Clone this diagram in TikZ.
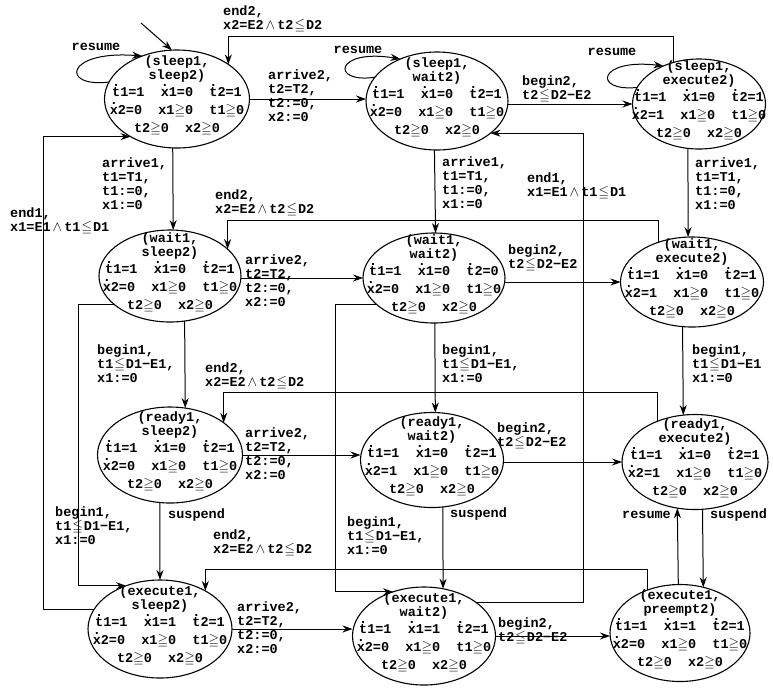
\documentclass[tikz,border=0pt]{standalone}
\usepackage{amssymb}
\usepackage{fontspec}
\setmainfont{Liberation Mono}
\usetikzlibrary{shapes.geometric,arrows.meta}

% relation symbols and derivative dot
\newcommand{\myge}{\ensuremath{\geqq}}
\newcommand{\myle}{\hspace{1pt}\ensuremath{\leqq}\hspace{1pt}}
\newcommand{\myand}{\hspace{2pt}\ensuremath{\wedge}\hspace{2pt}}
\newcommand{\dotv}[1]{\leavevmode\rlap{\smash{\hbox to 0.6em{\hss\raisebox{0.75em}{.}\hss}}}#1}
% contents of one state: (task1, task2) and its flow/invariant conditions
\newcommand{\stext}[5]{(#1,\\#2)\\[3pt]%
\dotv{t}1=1~~\dotv{x}1=#3~~\dotv{t}2=#4\\[4pt]%
\dotv{x}2=#5~~x1\myge0~~t1\myge0\\[4pt]%
t2\myge0~~x2\myge0}

\begin{document}
\begin{tikzpicture}[x=1pt,y=-1pt,
  every node/.style={font=\fontsize{13.5}{14}\selectfont\bfseries},
  st/.style={draw, ellipse, line width=1.1pt, inner sep=0pt, outer sep=0pt},
  txt/.style={align=center, inner sep=0pt},
  lab/.style={anchor=north west, align=left, inner sep=0pt},
  plain/.style={inner sep=0pt},
  arr/.style={line width=1pt, -{Stealth[length=10pt,width=7pt]}},
]
\fill[white] (0,0) rectangle (773,689);
\useasboundingbox (0,0) rectangle (773,689);

% ---- states ----
\node[st, minimum width=145pt, minimum height=98pt] (s1) at (177,99) {};
\node[st, minimum width=142pt, minimum height=98pt] (s2) at (437,101) {};
\node[st, minimum width=133pt, minimum height=90pt] (s3) at (699,104) {};
\node[st, minimum width=142pt, minimum height=92pt] (s4) at (170,276) {};
\node[st, minimum width=142pt, minimum height=90pt] (s5) at (434,278) {};
\node[st, minimum width=143pt, minimum height=90pt] (s6) at (692,282) {};
\node[st, minimum width=145pt, minimum height=96pt] (s7) at (170,455) {};
\node[st, minimum width=143pt, minimum height=95pt] (s8) at (432,460) {};
\node[st, minimum width=146pt, minimum height=95pt] (s9) at (695,462) {};
\node[st, minimum width=144pt, minimum height=98pt] (s10) at (160,629) {};
\node[st, minimum width=143pt, minimum height=98pt] (s11) at (424,636) {};
\node[st, minimum width=140pt, minimum height=97pt] (s12) at (680,633) {};

\node[txt] (s1t) at (177,96) {\stext{sleep1}{sleep2}{0}{1}{0}};
\node[txt] (s2t) at (437,98) {\stext{sleep1}{wait2}{0}{1}{0}};
\node[txt] (s3t) at (699,101) {\stext{sleep1}{execute2}{0}{1}{1}};
\node[txt] (s4t) at (170,273) {\stext{wait1}{sleep2}{0}{1}{0}};
\node[txt] (s5t) at (434,275) {\stext{wait1}{wait2}{0}{0}{0}};
\node[txt] (s6t) at (692,279) {\stext{wait1}{execute2}{0}{1}{1}};
\node[txt] (s7t) at (170,452) {\stext{ready1}{sleep2}{0}{1}{0}};
\node[txt] (s8t) at (432,457) {\stext{ready1}{wait2}{0}{1}{1}};
\node[txt] (s9t) at (695,459) {\stext{ready1}{execute2}{0}{1}{1}};
\node[txt] (s10t) at (160,626) {\stext{execute1}{sleep2}{1}{1}{0}};
\node[txt] (s11t) at (424,633) {\stext{execute1}{wait2}{1}{1}{0}};
\node[txt] (s12t) at (680,630) {\stext{execute1}{preempt2}{1}{1}{0}};

% ---- initial arrow and resume loops ----
\coordinate (init) at (141,23);
\draw[arr] (init) -- (s1.96);
\draw[arr] (s1.166.3) .. controls (60,88) and (65,50) .. (s1.129.7);
\draw[arr] (s2.159) .. controls (330,84) and (335,48) .. (s2.131.6);
\draw[arr] (s3.165.3) .. controls (592,92) and (598,58) .. (s3.133.6);
\node[plain] (r1) at (96,47) {resume};
\node[plain] (r2) at (358,50) {resume};
\node[plain] (r3) at (612,52) {resume};

% ---- horizontal transitions ----
\draw[arr] (s1.east) -- (s1.east -| s2.west);
\draw[arr] (s3.west -| s2.east) -- (s3.west);
\draw[arr] (s5.west -| s4.east) -- (s5.west);
\draw[arr] (s6.west -| s5.east) -- (s6.west);
\draw[arr] (s7.east) -- (s7.east -| s8.west);
\draw[arr] (s9.west -| s8.east) -- (s9.west);
\draw[arr] (s10.east) -- (s10.east -| s11.west);
\draw[arr] (s11.east) -- (s11.east -| s12.west);

% ---- vertical transitions ----
\draw[arr] (s1.265.3) -- (s4.86.3);
\draw[arr] (s2.267.7) -- (s5.88.7);
\draw[arr] (s3.256.1) -- (s6.95.1);
\draw[arr] (s4.288.4) -- (s7.72.3);
\draw[arr] (s5.271.3) -- (s8.86.4);
\draw[arr] (s6.258.6) -- (s9.104.4);
\draw[arr] (s7.258.1) -- (s10.90);
\draw[arr] (s8.283.2) -- (s11.68.1);
\draw[arr] (s9.279.6) -- (s12.63.3);
\draw[arr] (s12.92.4) -- (s9.249.8);

% ---- end2 returns ----
\coordinate (yA) at (0,36);
\draw[arr] (s3.122.1) -- (s3.122.1 |- yA) -| (s1.34.3);
\coordinate (yB) at (0,220);
\draw[arr] (s6.130.6) -- (s6.130.6 |- yB) -| (s4.25.7);
\coordinate (yC) at (0,392);
\draw[arr] (s9.133.1) -- (s9.133.1 |- yC) -| (s7.31.7);
\coordinate (yD) at (0,569);
\draw[arr] (s12.127.6) -- (s12.127.6 |- yD) -| (s10.40.3);

% ---- begin1 jumps and end1 returns ----
\coordinate (xA) at (78,0);
\draw[arr] (s4.207.8) -- (s4.207.8 -| xA) |- (s10.128.7);
\coordinate (xB) at (335,0);
\draw[arr] (s5.205.4) -- (s5.205.4 -| xB) |- (s11.125.6);
\coordinate (xC) at (43,0);
\draw[arr] (s10.164) -- (s10.164 -| xC) |- (s1.219.7);
\coordinate (xD) at (583,0);
\draw[arr] (s11.33.4) -- (s11.33.4 -| xD) |- (s2.329.3);

% ---- labels ----
\node[lab] (la1) at (223,6) {end2,\\x2=E2\myand t2\myle D2};
\node[lab] (la2) at (268,70) {arrive2,\\t2=T2,\\t2:=0,\\x2:=0};
\node[lab] (la3) at (522,76) {begin2,\\t2\myle D2−E2};
\node[lab] (la4) at (102,158) {arrive1,\\t1=T1,\\t1:=0,\\x1:=0};
\node[lab] (la5) at (442,157) {arrive1,\\t1=T1,\\t1:=0,\\x1:=0};
\node[lab] (la6) at (695,158) {arrive1,\\t1=T1,\\t1:=0,\\x1:=0};
\node[lab] (la7) at (10,208) {end1,\\x1=E1\myand t1\myle D1};
\node[lab] (la8) at (527,173) {end1,\\x1=E1\myand t1\myle D1};
\node[lab] (la9) at (215,190) {end2,\\x2=E2\myand t2\myle D2};
\node[lab] (la10) at (245,255) {arrive2,\\t2=T2,\\t2:=0,\\x2:=0};
\node[lab] (la11) at (508,245) {begin2,\\t2\myle D2−E2};
\node[lab] (la12) at (97,345) {begin1,\\t1\myle D1−E1,\\x1:=0};
\node[lab] (la13) at (442,345) {begin1,\\t1\myle D1−E1,\\x1:=0};
\node[lab] (la14) at (692,345) {begin1,\\t1\myle D1−E1\\x1:=0};
\node[lab] (la15) at (205,363) {end2,\\x2=E2\myand t2\myle D2};
\node[lab] (la16) at (245,428) {arrive2,\\t2=T2,\\t2:=0,\\x2:=0};
\node[lab] (la17) at (497,423) {begin2,\\t2\myle D2−E2};
\node[lab] (la18) at (55,507) {begin1,\\t1\myle D1−E1,\\x1:=0};
\node[lab] (la19) at (347,517) {begin1,\\t1\myle D1−E1,\\x1:=0};
\node[lab] (la20) at (213,530) {end2,\\x2=E2\myand t2\myle D2};
\node[lab] (la21) at (237,602) {arrive2,\\t2=T2,\\t2:=0,\\x2:=0};
\node[lab] (la22) at (498,618) {begin2,\\t2\myle D2−E2};
\node[plain, anchor=west] (su1) at (168,515) {suspend};
\node[plain, anchor=west] (su2) at (450,514) {suspend};
\node[plain, anchor=west] (su3) at (710,515) {suspend};
\node[plain, anchor=east] (r4) at (671,515) {resume};
\end{tikzpicture}
\end{document}
